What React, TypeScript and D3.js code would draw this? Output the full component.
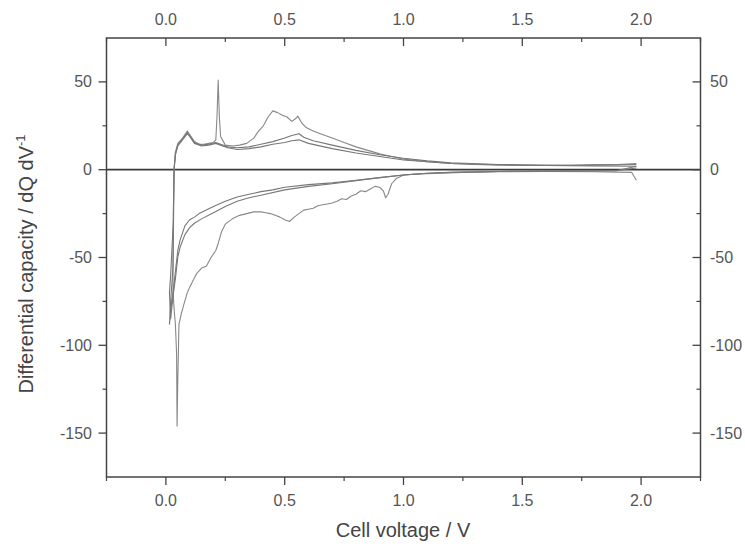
import React from "react";
import * as d3 from "d3";

// cycle 1 (first cycle): discharge 2.0 V -> 0 V, then charge back up
const cycle1Discharge: [number, number][] = [
  [1.98, -6], [1.96, -1.5], [1.8, -1.2], [1.6, -1.0], [1.4, -1.2], [1.25, -1.5],
  [1.15, -2], [1.05, -2.5], [1.0, -3], [0.97, -5], [0.95, -8], [0.935, -14],
  [0.925, -16], [0.915, -12], [0.9, -10], [0.88, -9.5], [0.86, -11], [0.84, -12.5],
  [0.82, -12], [0.8, -14], [0.78, -15], [0.76, -17], [0.74, -16.5], [0.72, -18],
  [0.7, -19], [0.68, -19.5], [0.66, -20], [0.64, -20.5], [0.62, -22], [0.6, -22.5],
  [0.58, -23], [0.56, -25], [0.54, -27], [0.52, -29.5], [0.5, -28.5], [0.48, -27],
  [0.46, -26], [0.44, -25], [0.42, -24.5], [0.4, -24], [0.37, -24], [0.34, -25],
  [0.31, -26], [0.28, -28], [0.25, -31], [0.235, -35], [0.22, -42], [0.21, -46],
  [0.19, -50], [0.17, -55], [0.15, -56], [0.13, -59], [0.115, -63], [0.1, -67],
  [0.09, -70], [0.075, -77], [0.065, -82], [0.055, -88], [0.05, -120], [0.047, -146],
  [0.045, -105], [0.04, -88], [0.035, -80], [0.03, -70],
];
const cycle1Charge: [number, number][] = [
  [0.03, -55], [0.033, -20], [0.035, 0], [0.04, 10], [0.05, 15], [0.07, 18],
  [0.09, 22], [0.1, 20], [0.12, 16], [0.14, 14.5], [0.16, 14.5], [0.18, 15],
  [0.2, 15.5], [0.21, 17], [0.215, 30], [0.22, 51], [0.225, 30], [0.23, 19],
  [0.25, 14], [0.28, 13.5], [0.31, 14], [0.34, 15], [0.37, 18], [0.39, 22],
  [0.41, 25], [0.43, 30], [0.45, 33.5], [0.47, 32.5], [0.49, 31], [0.51, 30],
  [0.53, 27.5], [0.545, 29], [0.555, 30.5], [0.57, 27], [0.59, 24], [0.62, 22],
  [0.65, 20.5], [0.7, 18], [0.75, 15.5], [0.8, 13], [0.85, 11], [0.9, 9],
  [0.95, 7.5], [1.0, 6], [1.1, 4.5], [1.2, 3.5], [1.3, 3], [1.4, 2.5], [1.5, 2.5],
  [1.6, 2.5], [1.7, 2.5], [1.8, 3], [1.9, 3], [1.98, 3.5],
];

// cycle 2
const cycle2Discharge: [number, number][] = [
  [1.98, 2], [1.9, -0.5], [1.6, -0.8], [1.4, -1], [1.2, -1.5], [1.1, -2],
  [1.0, -3], [0.9, -4.5], [0.8, -6], [0.7, -7.5], [0.6, -8.5], [0.5, -10],
  [0.45, -11.5], [0.4, -12.5], [0.35, -14], [0.3, -15.5], [0.25, -18], [0.2, -21],
  [0.17, -23], [0.14, -25], [0.12, -27], [0.1, -28.5], [0.08, -32], [0.07, -36],
  [0.06, -40], [0.05, -46], [0.045, -52], [0.04, -58], [0.03, -70], [0.02, -80],
  [0.015, -88],
];
const cycle2Charge: [number, number][] = [
  [0.02, -75], [0.03, -55], [0.032, -20], [0.034, 0], [0.04, 9], [0.05, 14],
  [0.07, 17.5], [0.09, 21], [0.1, 19.5], [0.12, 15.5], [0.15, 14], [0.18, 14.5],
  [0.21, 15.5], [0.23, 14.5], [0.26, 13], [0.3, 12.5], [0.35, 13], [0.4, 14.5],
  [0.45, 16], [0.5, 18], [0.53, 19.5], [0.56, 20.5], [0.58, 18.5], [0.62, 16.5],
  [0.7, 14], [0.8, 11], [0.9, 8.5], [1.0, 6.5], [1.1, 5], [1.2, 4], [1.4, 3],
  [1.6, 2.5], [1.8, 2.5], [1.98, 3],
];

// cycle 3
const cycle3Discharge: [number, number][] = [
  [1.98, 1], [1.9, -0.5], [1.6, -0.8], [1.4, -1], [1.2, -1.5], [1.1, -2],
  [1.0, -3], [0.9, -4.5], [0.8, -6.2], [0.7, -8], [0.6, -9.5], [0.5, -11.5],
  [0.4, -14.5], [0.35, -16], [0.3, -18], [0.25, -21], [0.2, -24.5], [0.15, -28],
  [0.12, -30.5], [0.1, -33], [0.08, -37], [0.06, -44], [0.05, -50], [0.04, -62],
  [0.03, -72], [0.02, -85], [0.015, -70],
];
const cycle3Charge: [number, number][] = [
  [0.02, -60], [0.031, -30], [0.034, 0], [0.04, 8.5], [0.05, 13.5], [0.07, 17],
  [0.09, 20.5], [0.1, 19], [0.12, 15], [0.15, 13.5], [0.18, 14], [0.21, 15],
  [0.23, 14], [0.26, 12.5], [0.3, 11.5], [0.35, 12], [0.4, 13], [0.45, 14.5],
  [0.5, 15.5], [0.53, 16.5], [0.56, 17], [0.6, 15], [0.7, 12], [0.8, 9.5],
  [0.9, 7.5], [1.0, 5.5], [1.2, 3.5], [1.5, 2.5], [1.8, 2.2], [1.98, 2],
];

const xMajorTicks = [0, 0.5, 1.0, 1.5, 2.0];
const xMinorTicks = [-0.25, 0.25, 0.75, 1.25, 1.75, 2.25];
const yMajorTicks = [50, 0, -50, -100, -150];
const yMinorTicks = [25, -25, -75, -125];

const W = 745;
const H = 547;
const left = 106.5;
const right = 700.5;
const top = 38;
const bottom = 477;

export default function App() {
  const x = d3.scaleLinear().domain([-0.25, 2.25]).range([left, right]);
  const y = d3.scaleLinear().domain([-175, 75]).range([bottom, top]);
  const line = d3
    .line<[number, number]>()
    .x((d) => x(d[0]))
    .y((d) => y(d[1]));

  const cycles = [
    [...cycle1Discharge, ...cycle1Charge],
    [...cycle2Discharge, ...cycle2Charge],
    [...cycle3Discharge, ...cycle3Charge],
  ];
  const ink = "#444";
  const font = "'Liberation Sans', Arial, sans-serif";

  return (
    <div style={{ position: "absolute", left: 0, top: 0 }}>
      <svg width={W} height={H} style={{ display: "block", background: "#fff" }}>
        <defs>
          <clipPath id="plot">
            <rect x={left} y={top} width={right - left} height={bottom - top} />
          </clipPath>
        </defs>

        {/* curves */}
        <g clipPath="url(#plot)">
          <line x1={left} x2={right} y1={y(0)} y2={y(0)} stroke="#3a3a3a" strokeWidth={1.8} />
          {cycles.map((c, i) => (
            <path
              key={i}
              d={line(c) ?? ""}
              fill="none"
              stroke={i === 0 ? "#888" : "#777"}
              strokeWidth={1.1}
              strokeLinejoin="round"
            />
          ))}
        </g>

        {/* frame */}
        <rect
          x={left}
          y={top}
          width={right - left}
          height={bottom - top}
          fill="none"
          stroke={ink}
          strokeWidth={1.5}
        />

        {/* x ticks: bottom outward, top inward */}
        {xMajorTicks.map((t) => (
          <g key={"xM" + t}>
            <line x1={x(t)} x2={x(t)} y1={bottom} y2={bottom + 8} stroke={ink} strokeWidth={1.3} />
            <line x1={x(t)} x2={x(t)} y1={top} y2={top + 8} stroke={ink} strokeWidth={1.3} />
            <text x={x(t)} y={506} textAnchor="middle" fontSize={16} fill="#555" fontFamily={font}>
              {t.toFixed(1)}
            </text>
            <text x={x(t)} y={25} textAnchor="middle" fontSize={16} fill="#555" fontFamily={font}>
              {t.toFixed(1)}
            </text>
          </g>
        ))}
        {xMinorTicks.map((t) => (
          <g key={"xm" + t}>
            <line x1={x(t)} x2={x(t)} y1={bottom} y2={bottom + 4} stroke={ink} strokeWidth={1.2} />
            <line x1={x(t)} x2={x(t)} y1={top} y2={top + 4} stroke={ink} strokeWidth={1.2} />
          </g>
        ))}

        {/* y ticks: left outward, right inward */}
        {yMajorTicks.map((t) => (
          <g key={"yM" + t}>
            <line x1={left - 8} x2={left} y1={y(t)} y2={y(t)} stroke={ink} strokeWidth={1.3} />
            <line x1={right - 8} x2={right} y1={y(t)} y2={y(t)} stroke={ink} strokeWidth={1.3} />
            <text x={92} y={y(t) + 5.5} textAnchor="end" fontSize={16} fill="#555" fontFamily={font}>
              {t}
            </text>
            <text x={710} y={y(t) + 5.5} textAnchor="start" fontSize={16} fill="#555" fontFamily={font}>
              {t}
            </text>
          </g>
        ))}
        {yMinorTicks.map((t) => (
          <g key={"ym" + t}>
            <line x1={left - 4} x2={left} y1={y(t)} y2={y(t)} stroke={ink} strokeWidth={1.2} />
            <line x1={right - 4} x2={right} y1={y(t)} y2={y(t)} stroke={ink} strokeWidth={1.2} />
          </g>
        ))}

        {/* axis titles */}
        <text x={403} y={537} textAnchor="middle" fontSize={20} fill="#444" fontFamily={font}>
          Cell voltage / V
        </text>
        <text
          transform="translate(33,264) rotate(-90)"
          textAnchor="middle"
          fontSize={20}
          fill="#444"
          fontFamily={font}
        >
          Differential capacity / dQ dV
          <tspan dy={-8} fontSize={13}>-1</tspan>
        </text>
      </svg>
    </div>
  );
}
